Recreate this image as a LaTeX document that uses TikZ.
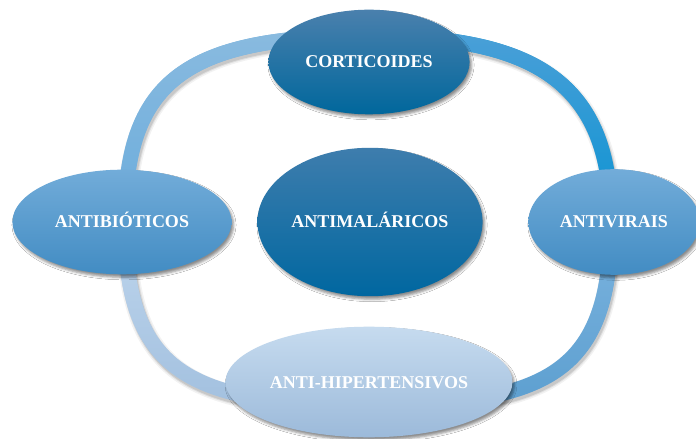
\documentclass[tikz,border=0pt]{standalone}
\usepackage{fontspec}
\setmainfont{Liberation Serif}
\usetikzlibrary{shapes.geometric,fadings,shadows.blur}
\tikzfading[name=fadeTB, top color=transparent!0, bottom color=transparent!100]
\definecolor{tlA}{HTML}{8ABBE0}
\definecolor{tlB}{HTML}{6AACDC}
\definecolor{trA}{HTML}{4CA0D8}
\definecolor{trB}{HTML}{0893D3}
\definecolor{brA}{HTML}{7EB5E0}
\definecolor{brB}{HTML}{5C9FD0}
\definecolor{blA}{HTML}{C0D7EE}
\definecolor{blB}{HTML}{A2C0DF}
\definecolor{sideTop}{HTML}{72ACD9}
\definecolor{sideBot}{HTML}{428CC3}
\definecolor{darkTop}{HTML}{4A80AD}
\definecolor{darkBot}{HTML}{00679C}
\definecolor{midTop}{HTML}{3E7DAD}
\definecolor{midBot}{HTML}{0067A0}
\definecolor{lightTop}{HTML}{C6DBEF}
\definecolor{lightBot}{HTML}{9CBADA}
\newcommand\segTL{(rt) .. controls +(-185,0) and +(0,-140) .. (rl)}
\newcommand\segTR{(rt) .. controls +(165,0) and +(0,-140) .. (rr)}
\newcommand\segBR{(rr) .. controls +(0,150) and +(180,0) .. (rb)}
\newcommand\segBL{(rl) .. controls +(0,150) and +(-180,0) .. (rb)}
\tikzset{
  bubble/.style={ellipse, inner sep=0pt, text=white,
    font=\fontsize{18bp}{20bp}\selectfont\bfseries,
    text height=12bp, text depth=0pt,
    blur shadow={shadow xshift=2bp, shadow yshift=-3bp,
      shadow blur radius=2.5bp, shadow opacity=45}},
  band/.style={line width=15bp},
  shadeband/.style={line width=15bp, path fading=fadeTB},
  bshadow/.style={draw=black, transform canvas={shift={(1.5bp,-3bp)}}}
}
\begin{document}
\begin{tikzpicture}[x=1bp, y=-1bp]
\useasboundingbox (0,0) rectangle (696,439);
\fill[white] (0,0) rectangle (696,439);
% ring reference points
\coordinate (rt) at (369,36);
\coordinate (rl) at (125,222);
\coordinate (rr) at (611,222);
\coordinate (rb) at (369,405);
% ring shadows
\foreach \w/\o in {20/0.05, 17/0.08, 15/0.10}{
  \draw[bshadow, line width=\w bp, opacity=\o] \segTL;
  \draw[bshadow, line width=\w bp, opacity=\o] \segTR;
  \draw[bshadow, line width=\w bp, opacity=\o] \segBR;
  \draw[bshadow, line width=\w bp, opacity=\o] \segBL;
}
% ring segments
\draw[band, draw=tlB] \segTL;
\draw[shadeband, draw=tlA] \segTL;
\draw[band, draw=trB] \segTR;
\draw[shadeband, draw=trA] \segTR;
\draw[band, draw=brB] \segBR;
\draw[shadeband, draw=brA] \segBR;
\draw[band, draw=blB] \segBL;
\draw[shadeband, draw=blA] \segBL;
% ellipses
\node[bubble, minimum width=202, minimum height=105, top color=darkTop, bottom color=darkBot] (cort) at (369,62) {CORTICOIDES};
\node[bubble, minimum width=226, minimum height=149, top color=midTop, bottom color=midBot] (antimal) at (370,222) {ANTIMALÁRICOS};
\node[bubble, minimum width=220, minimum height=105, top color=sideTop, bottom color=sideBot] (antib) at (122,222) {ANTIBIÓTICOS};
\node[bubble, minimum width=172, minimum height=106, top color=sideTop, bottom color=sideBot] (antiv) at (614,222) {ANTIVIRAIS};
\node[bubble, minimum width=288, minimum height=111, top color=lightTop, bottom color=lightBot] (antih) at (369,382) {ANTI-HIPERTENSIVOS};
\end{tikzpicture}
\end{document}
